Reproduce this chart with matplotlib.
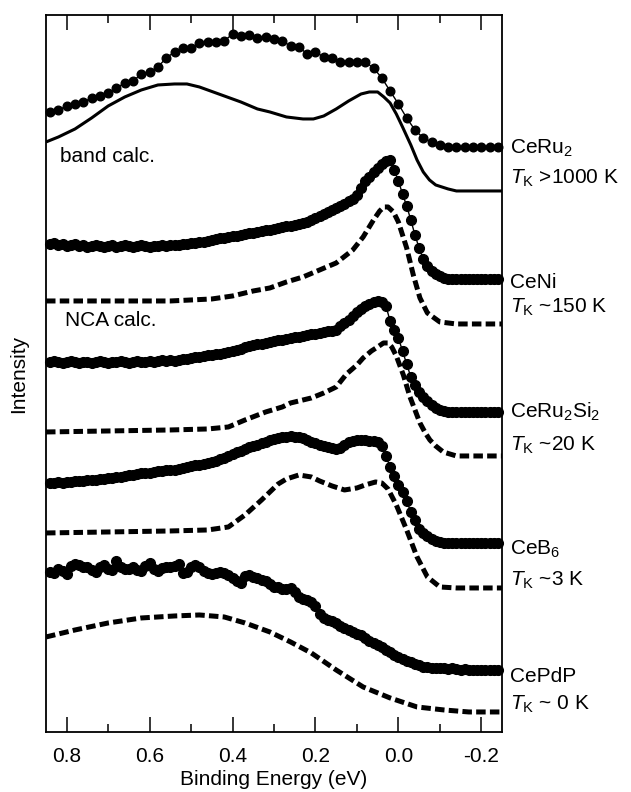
import numpy as np
import matplotlib
matplotlib.use("Agg")
import matplotlib.pyplot as plt
from matplotlib.transforms import blended_transform_factory

plt.rcParams["font.family"] = ["Liberation Sans", "DejaVu Sans"]
plt.rcParams["mathtext.fontset"] = "custom"
plt.rcParams["mathtext.rm"] = "Liberation Sans"
plt.rcParams["mathtext.it"] = "Liberation Sans:italic"
plt.rcParams["axes.unicode_minus"] = False

FS = 15

# energy grids of the measured spectra (eV)
e_coarse = np.round(np.arange(0.84, -0.2401, -0.02), 2)   # CeRu2
e_fine = np.round(np.arange(0.84, -0.2401, -0.01), 2)     # the others

# measured spectra (arb. units, offsets included)
ceru2 = [620, 622, 626, 628, 630, 634, 636, 639, 644, 649,
         651, 658, 660, 665, 674, 680, 684, 684, 689, 690,
         690, 691, 698, 696, 697, 694, 695, 693, 691, 686,
         685, 678, 680, 675, 674, 670, 670, 670, 670, 664,
         654, 641, 628, 614, 602, 594, 590, 587,
         585, 585, 585, 585, 585, 585, 585]

ceni = [488, 489, 487, 488, 486, 487, 488, 486, 487, 485,
        486, 487, 486, 485, 486, 487, 485, 486, 487, 486,
        485, 486, 487, 486, 485, 486, 486, 487, 486, 487,
        487, 487, 488, 488, 489, 489, 490, 490, 491, 492,
        493, 494, 494, 495, 496, 496, 497, 498, 499, 499, 500, 501, 502, 502, 503,
        504, 505, 506, 506, 507, 508, 509, 510, 512, 514,
        516, 518, 520, 522, 524, 526, 528, 531, 533,
        537, 544, 551, 555, 560, 564, 568, 571, 572,
        562, 551, 538, 526, 512, 497, 484, 473, 466, 461, 458, 456, 454, 453,
        453, 453, 453, 453, 453, 453, 453, 453, 453, 453, 453, 453]

ceru2si2 = [370, 371, 370, 369, 370, 371, 370, 369, 370, 370,
            369, 370, 371, 370, 369, 370, 370, 371, 370, 369,
            370, 371, 370, 370, 371, 370, 371, 372, 371, 372,
            371, 372, 373, 373, 374, 375, 375, 376, 377, 377,
            378, 378, 379, 380, 381, 382, 383, 385, 386, 387, 388, 388, 389, 390,
            391, 392, 392, 393, 394, 395, 395, 396, 397, 398, 398, 399, 400, 401, 401, 402,
            406, 409, 412, 416, 420, 423, 426, 428, 430,
            431, 430, 426,
            411, 402, 394,
            381, 368, 355, 347, 340, 335, 331, 327, 324, 322, 321,
            320, 320, 320, 320, 320, 320, 320, 320, 320, 320, 320, 320, 320]

ceb6 = [249, 249, 250, 249, 250, 250, 251, 251, 251, 252,
        252, 252, 253, 253, 254, 254, 255, 255, 256, 257,
        257, 258, 259, 259, 259, 260, 261, 261, 262, 262,
        262, 263, 264, 265, 266, 267, 267, 268, 269, 270,
        271, 273, 274, 276, 278, 280, 281, 283, 285, 286,
        287, 289, 290, 292, 293, 294, 295, 295, 296, 295,
        295, 294, 292, 290, 289, 287, 286, 285, 284, 283,
        284, 287, 290, 291, 292, 292, 292, 291, 291, 290,
        286, 276, 265, 256, 247, 240, 231, 220, 212, 203,
        199, 196, 193, 191, 190, 189,
        189, 189, 189, 189, 189, 189, 189, 189, 189, 189, 189, 189, 189]

cepdp = [159.5, 159, 162.5, 161, 158, 166, 168, 166.5, 165.3, 165.3,
         162, 160, 165, 166.5, 163, 162, 171, 165, 163, 163,
         165.3, 162, 161, 166, 169, 163, 161, 163.5, 164.5, 165,
         166, 167.5, 159, 160, 165, 166.5, 164.5, 161, 158.5, 158,
         159, 160, 159, 157, 153.5, 151, 149, 155.5, 156.5, 155.3,
         153.5, 152, 150.5, 148, 145.3,
         144.5, 142.5, 143, 144, 140, 134.5, 132.7, 131.5, 129.5, 126,
         117.5, 113.5, 112, 110.5, 108.7, 106, 103.5, 102, 100, 98,
         96.5, 94, 91, 88.5, 86.5, 84.5, 82, 80.3, 77, 74.5,
         72.5, 71, 69.5, 68, 66.5, 65.3, 65, 64, 63.7, 63.7,
         63.5, 63, 63.5, 62.5, 62, 62.5, 62,
         62, 62, 62, 62, 62, 62, 62]

# band calculation for CeRu2
band_e = [0.85, 0.82, 0.78, 0.74, 0.70, 0.66, 0.62, 0.58, 0.54, 0.51, 0.48, 0.42,
          0.38, 0.34, 0.31, 0.27, 0.23, 0.205, 0.18, 0.15, 0.12, 0.09, 0.07, 0.05,
          0.035, 0.02, 0.005, -0.01, -0.03, -0.045, -0.06, -0.075, -0.09, -0.12,
          -0.14, -0.17, -0.25]
band_y = [590, 595, 603, 614, 626, 635, 642, 647, 648, 648, 645, 636,
          630, 623, 620, 615, 613, 613, 616, 623, 631, 638, 640, 640,
          635, 629, 618, 605, 587, 572, 560, 552, 547, 543,
          541, 541, 541]

# NCA calculations
nca_ceni_e = [0.85, 0.70, 0.55, 0.50, 0.45, 0.40, 0.35, 0.31, 0.27, 0.23, 0.19, 0.15,
              0.11, 0.085, 0.06, 0.045, 0.035, 0.025, 0.012, 0.0, -0.02, -0.036,
              -0.052, -0.07, -0.10, -0.14, -0.25]
nca_ceni_y = [431, 431, 431, 432, 433, 436, 441, 444, 450, 455, 462, 469,
              482, 495, 512, 521, 525, 525, 520, 510, 484, 457,
              434, 419, 410, 408, 408]

nca_ceru2si2_e = [0.85, 0.70, 0.55, 0.46, 0.41, 0.37, 0.32, 0.28, 0.26, 0.21, 0.18,
                  0.15, 0.125, 0.10, 0.085, 0.065, 0.05, 0.036, 0.025, 0.016, 0.005,
                  -0.012, -0.028, -0.04, -0.052, -0.065, -0.076, -0.09, -0.108,
                  -0.14, -0.25]
nca_ceru2si2_y = [300, 301, 302, 303, 305, 312, 320, 325, 329, 334, 339,
                  345, 358, 367, 374, 381, 385, 389, 389, 385, 376,
                  357, 335, 322, 309, 299, 292, 286, 280,
                  276, 276]

nca_ceb6_e = [0.85, 0.70, 0.55, 0.46, 0.41, 0.37, 0.33, 0.31, 0.29, 0.27, 0.24, 0.21,
              0.19, 0.16, 0.13, 0.10, 0.08, 0.055, 0.04, 0.025, 0.005, -0.02,
              -0.045, -0.07, -0.10, -0.14, -0.25]
nca_ceb6_y = [199, 200, 201, 202, 205, 217, 232, 240, 248, 253, 257, 255,
              251, 246, 242, 244, 247, 250, 249, 243, 227, 202,
              175, 155, 145, 144, 144]

nca_cepdp_e = [0.85, 0.78, 0.70, 0.62, 0.54, 0.48, 0.42, 0.37, 0.31, 0.26, 0.21,
               0.15, 0.085, 0.02, -0.045, -0.11, -0.17, -0.25]
nca_cepdp_y = [95, 102, 109, 114, 116, 117, 115, 109, 100, 90, 79,
               62, 45, 34, 25, 22, 20, 20]

names = ["CeRu$_2$", "CeNi", "CeRu$_2$Si$_2$", "CeB$_6$", "CePdP"]
tk_labels = ["$T_\\mathrm{K}$ >1000 K", "$T_\\mathrm{K}$ ~150 K", "$T_\\mathrm{K}$ ~20 K",
             "$T_\\mathrm{K}$ ~3 K", "$T_\\mathrm{K}$ ~ 0 K"]
name_y = [578, 444, 314, 177, 50]
tk_y = [548, 419, 281, 146, 22]

fig = plt.figure(figsize=(6.31, 7.92), dpi=100)
ax = fig.add_axes([0.0729, 0.0758, 0.7227, 0.9053])

ax.plot(e_coarse, ceru2, color="black", marker="o", lw=1.0, markersize=6.2,
        clip_on=False, zorder=3)
for spec in (ceni, ceru2si2, ceb6, cepdp):
    ax.plot(e_fine, spec, color="black", marker="o", lw=1.0, markersize=7,
            clip_on=False, zorder=3)

ax.plot(band_e, band_y, color="black", lw=2.2, solid_capstyle="butt")

dash = dict(color="black", lw=3.6, linestyle=(0, (1.9, 0.85)), dash_capstyle="butt")
ax.plot(nca_ceni_e, nca_ceni_y, **dash)
ax.plot(nca_ceru2si2_e, nca_ceru2si2_y, **dash)
ax.plot(nca_ceb6_e, nca_ceb6_y, **dash)
ax.plot(nca_cepdp_e, nca_cepdp_y, **dash)

ax.text(0.816, 570, "band calc.", fontsize=FS, va="baseline", ha="left")
ax.text(0.804, 406, "NCA calc.", fontsize=FS, va="baseline", ha="left")

tr = blended_transform_factory(ax.transAxes, ax.transData)
for nm, ny, tk, ty in zip(names, name_y, tk_labels, tk_y):
    ax.text(1.018, ny, nm, transform=tr, fontsize=FS, va="baseline", ha="left")
    ax.text(1.018, ty, tk, transform=tr, fontsize=FS, va="baseline", ha="left")

ax.set_xlim(0.85, -0.25)
ax.set_ylim(0, 717)
ax.set_xticks([0.8, 0.6, 0.4, 0.2, 0.0, -0.2])
ax.set_xticklabels(["0.8", "0.6", "0.4", "0.2", "0.0", "-0.2"])
ax.set_xticks([0.7, 0.5, 0.3, 0.1, -0.1], minor=True)
ax.set_yticks([])
ax.tick_params(axis="x", which="both", direction="in", top=True, bottom=True,
               labelsize=FS, pad=10.5, width=1.1)
ax.tick_params(axis="x", which="major", length=10.5)
ax.tick_params(axis="x", which="minor", length=5.5)
for sp in ax.spines.values():
    sp.set_linewidth(1.3)

ax.set_xlabel("Binding Energy (eV)", fontsize=FS, labelpad=3)
ax.set_ylabel("Intensity", fontsize=FS, labelpad=13)

fig.savefig("out.png", dpi=100)
